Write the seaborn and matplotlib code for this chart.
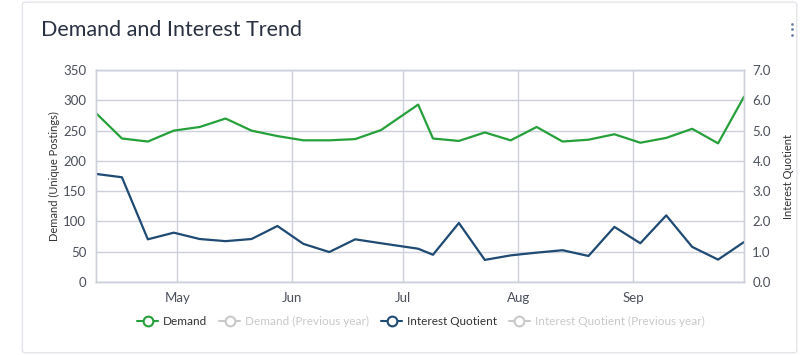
import numpy as np
import pandas as pd
import seaborn as sns
import matplotlib.dates as mdates
from matplotlib import pyplot as plt
from matplotlib.lines import Line2D
from matplotlib.patches import FancyBboxPatch
from matplotlib.ticker import FormatStrFormatter, MultipleLocator

# weekly observations (one mid-week point in early July)
dates = ['2023-04-09', '2023-04-16', '2023-04-23', '2023-04-30', '2023-05-07',
         '2023-05-14', '2023-05-21', '2023-05-28', '2023-06-04', '2023-06-11',
         '2023-06-18', '2023-06-25', '2023-07-05', '2023-07-09', '2023-07-16',
         '2023-07-23', '2023-07-30', '2023-08-06', '2023-08-13', '2023-08-20',
         '2023-08-27', '2023-09-03', '2023-09-10', '2023-09-17', '2023-09-24',
         '2023-10-01']
demand = [279, 237, 232, 250, 256, 270, 250, 241, 234, 234, 236, 251, 293,
          237, 233, 247, 234, 256, 232, 235, 244, 230, 238, 253, 229, 306]
interest_quotient = [3.57, 3.46, 1.41, 1.63, 1.42, 1.35, 1.42, 1.85, 1.26, 0.99,
                     1.41, 1.28, 1.10, 0.90, 1.95, 0.73, 0.88, 0.97, 1.05, 0.86,
                     1.82, 1.28, 2.20, 1.16, 0.74, 1.32]
legend_labels = ['Demand', 'Demand (Previous year)', 'Interest Quotient',
                 'Interest Quotient (Previous year)']

GREEN = '#26a03a'
NAVY = '#1e4a73'
GRID = '#cdd1dc'
MUTED = '#c9c9c9'

df = pd.DataFrame({'date': pd.to_datetime(dates),
                   'demand': demand,
                   'iq': interest_quotient})

sns.set_style('white')
plt.rcParams['font.family'] = ['Lato', 'DejaVu Sans']

fig = plt.figure(figsize=(8, 3.55), dpi=100)

# card background
card = FancyBboxPatch((0.028, 0.006), 0.968, 0.988, boxstyle='round,pad=0,rounding_size=0.006',
                      transform=fig.transFigure, facecolor='white', edgecolor='#e2e5ea',
                      linewidth=1, zorder=-10)
fig.patches.append(card)

ax = fig.add_axes([0.12, 0.2056, 0.81, 0.597])
ax2 = ax.twinx()

sns.lineplot(data=df, x='date', y='demand', ax=ax, color=GREEN, linewidth=1.6)
sns.lineplot(data=df, x='date', y='iq', ax=ax2, color=NAVY, linewidth=1.6)

ax.set_xlim(df['date'].iloc[0], df['date'].iloc[-1])
ax.set_ylim(0, 350)
ax2.set_ylim(0, 7)
ax.yaxis.set_major_locator(MultipleLocator(50))
ax2.yaxis.set_major_locator(MultipleLocator(1))
ax2.yaxis.set_major_formatter(FormatStrFormatter('%.1f'))
ax.xaxis.set_major_locator(mdates.MonthLocator(bymonth=range(5, 10)))
ax.xaxis.set_major_formatter(mdates.DateFormatter('%b'))

ax.grid(True, color=GRID, linewidth=1)
ax.set_axisbelow(True)
for a in (ax, ax2):
    for s in a.spines.values():
        s.set_color(GRID)
        s.set_linewidth(1)
    a.tick_params(length=0, labelsize=9.5, labelcolor='#4a4f5a')
ax.tick_params(axis='y', pad=7)
ax.tick_params(axis='x', pad=7)
ax2.tick_params(axis='y', pad=6)

ax.set_xlabel('')
ax.set_ylabel('Demand (Unique Postings)', fontsize=8, color='#333333', labelpad=2)
ax2.set_ylabel('Interest Quotient', fontsize=8, color='#333333', labelpad=9)

fig.text(0.051, 0.915, 'Demand and Interest Trend', fontsize=15.5, color='#2a3142',
         va='center', ha='left')
# kebab menu dots
fig.add_artist(Line2D([0.99, 0.99, 0.99], [0.933, 0.917, 0.901], linestyle='none',
                      marker='o', markersize=2.0, markeredgewidth=0, color='#6d84a8',
                      transform=fig.transFigure))

colors = [GREEN, MUTED, NAVY, MUTED]
handles = [Line2D([], [], color=c, linewidth=1.5, marker='o', markersize=7,
                  markerfacecolor='white', markeredgecolor=c, markeredgewidth=1.5)
           for c in colors]
leg = fig.legend(handles, legend_labels, loc='center', bbox_to_anchor=(0.526, 0.095),
                 ncol=4, frameon=False, fontsize=8.5, handlelength=1.8, handletextpad=0.4,
                 columnspacing=1.0)
for txt, c in zip(leg.get_texts(), ['#333333', MUTED, '#333333', MUTED]):
    txt.set_color(c)

fig.savefig('out.png', dpi=100)
